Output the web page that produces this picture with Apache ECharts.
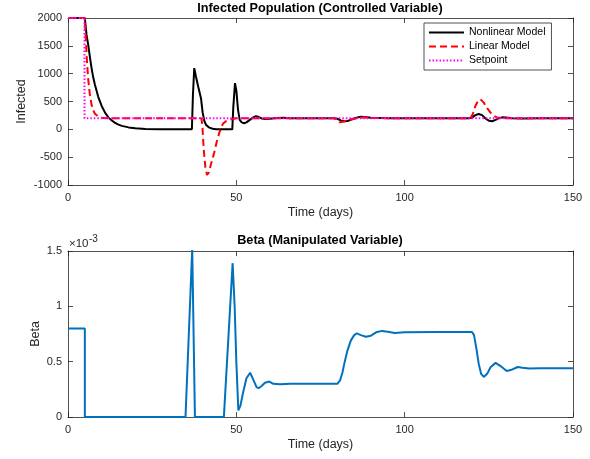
<!DOCTYPE html>
<html>
<head>
<meta charset="utf-8">
<script src="https://cdn.jsdelivr.net/npm/echarts@6/dist/echarts.min.js"></script>
<style>
  html, body { margin: 0; padding: 0; background: #fff; }
  #main { width: 590px; height: 459px; }
</style>
</head>
<body>
<div id="main"></div>
<script>
// infected population, [time (days), value]
const nonlinearPts = [
  [0,2000],[5,2000],[5.5,1700],[6,1520],[6.5,1300],[7,1100],[7.5,930],[8,800],[9,580],[10,420],
  [11,300],[12,215],[13,160],[14,115],[15,85],[16,62],[18,35],[20,20],[23,8],[27,2],[30,0],
  [36.8,0],[37.1,600],[37.5,1100],[38,950],[38.7,760],[39.5,560],[40,300],[40.5,150],[41,80],
  [42,30],[43,10],[44,2],[45,0],[48.8,0],[49.1,400],[49.6,830],[50,700],[50.5,350],[51,170],
  [51.6,125],[52.3,110],[53,125],[54,170],[55,215],[55.8,235],[56.5,225],[57.5,195],[58.5,185],
  [60,190],[62,205],[64,208],[66,200],[70,198],[75,200],[79,200],[80,190],[81,160],[82,145],
  [83,150],[84,170],[85,195],[86,215],[87,225],[88,222],[90,210],[93,205],[96,200],[100,200],
  [119,200],[120,210],[121,255],[122,275],[123,255],[124,195],[125,155],[126,145],[127,170],
  [128,200],[129,215],[130,212],[132,200],[135,196],[140,200],[150,200]
];
const linearPts = [
  [0,2000],[5,2000],[5.3,1600],[5.6,1250],[6,900],[6.5,620],[7,440],[7.5,340],[8,280],[9,228],
  [10,210],[11,202],[12,200],[39.6,200],[39.9,80],[40.3,-350],[40.8,-680],[41.3,-820],[41.8,-780],
  [42.5,-620],[43.3,-450],[44.2,-220],[45,-50],[46,100],[47,150],[48,170],[49,185],[50,200],
  [79,200],[80,165],[80.8,125],[82,140],[84,175],[86,205],[88,215],[90,205],[95,200],
  [119.5,200],[120.2,270],[121,420],[121.8,510],[122.5,540],[123.5,480],[124.5,380],[125.5,300],
  [126.5,240],[127.5,210],[129,205],[130,200],[150,200]
];
const setpointPts = [[0,2000],[4.9,2000],[4.9,200],[150,200]];

// beta in units of 1e-3
const betaPts = [
  [0,0.8],[5,0.8],[5,0],[34.9,0],[36.9,1.52],[37.7,0],[46.3,0],[48.9,1.39],[49.5,1.0],[50,0.5],
  [50.6,0.06],[51.2,0.1],[52,0.22],[53,0.35],[54.1,0.40],[55,0.34],[56,0.27],[56.6,0.26],
  [57.5,0.28],[58.5,0.31],[59.8,0.32],[61,0.30],[63,0.295],[66,0.30],[70,0.30],[75,0.30],
  [80,0.30],[80.8,0.33],[81.5,0.40],[82.2,0.50],[83,0.60],[84,0.69],[85,0.74],[85.8,0.755],
  [87,0.74],[88.5,0.725],[90,0.735],[91.5,0.765],[93.3,0.778],[95,0.77],[97,0.76],[100,0.765],
  [110,0.767],[120,0.768],[120.6,0.74],[121.3,0.62],[122,0.48],[122.7,0.39],[123.5,0.362],
  [124.5,0.39],[125.5,0.45],[127,0.489],[128.5,0.46],[130.3,0.416],[132,0.43],[133.6,0.452],
  [135,0.445],[137,0.438],[140,0.44],[150,0.44]
];

const titles = ['Infected Population (Controlled Variable)', 'Beta (Manipulated Variable)'];
const seriesNames = ['Nonlinear Model', 'Linear Model', 'Setpoint'];

const FONT = 'Liberation Sans, Arial, sans-serif';
const INK = '#262626';

const chart = echarts.init(document.getElementById('main'));

function xAx(grid, pos, showLabel, name) {
  return {
    type: 'value', gridIndex: grid, position: pos, min: 0, max: 150, interval: 50,
    name: name, nameLocation: 'middle', nameGap: 21, nameMoveOverlap: false,
    nameTextStyle: { color: INK, fontFamily: FONT, fontSize: 12.5 },
    axisLine: { show: true, onZero: false, lineStyle: { color: INK, width: 0.8 } },
    axisTick: { show: true, inside: true, length: 5, lineStyle: { color: INK, width: 0.8 } },
    axisLabel: { show: showLabel, color: INK, fontFamily: FONT, fontSize: 11, margin: 7 },
    splitLine: { show: false }
  };
}
function yAx(grid, pos, showLabel, min, max, interval, name, gap) {
  return {
    type: 'value', gridIndex: grid, position: pos, min: min, max: max, interval: interval,
    name: name, nameLocation: 'middle', nameGap: gap, nameMoveOverlap: false,
    nameTextStyle: { color: INK, fontFamily: FONT, fontSize: 12.5 },
    axisLine: { show: true, onZero: false, lineStyle: { color: INK, width: 0.8 } },
    axisTick: { show: true, inside: true, length: 5, lineStyle: { color: INK, width: 0.8 } },
    axisLabel: { show: showLabel, color: INK, fontFamily: FONT, fontSize: 11, margin: 6,
      formatter: v => String(v) },
    splitLine: { show: false }
  };
}

chart.setOption({
  animation: false,
  backgroundColor: '#fff',
  title: [
    { text: titles[0], left: 320, top: 2, padding: 0, textAlign: 'center',
      textStyle: { fontFamily: FONT, fontSize: 12.7, fontWeight: 'bold', color: '#000' } },
    { text: titles[1], left: 320, top: 234, padding: 0, textAlign: 'center',
      textStyle: { fontFamily: FONT, fontSize: 12.7, fontWeight: 'bold', color: '#000' } }
  ],
  legend: {
    data: seriesNames, orient: 'vertical', left: 424, top: 23,
    itemWidth: 35, itemHeight: 10, itemGap: 3,
    padding: [4, 6, 4, 4],
    itemStyle: { opacity: 0 },
    backgroundColor: '#fff', borderColor: INK, borderWidth: 0.8,
    textStyle: { fontFamily: FONT, fontSize: 10.5, color: '#000' }
  },
  grid: [
    { left: 68, top: 18, width: 505, height: 167 },
    { left: 68, top: 251, width: 505, height: 166 }
  ],
  xAxis: [
    xAx(0, 'bottom', true, 'Time (days)'),
    xAx(0, 'top', false),
    xAx(1, 'bottom', true, 'Time (days)'),
    xAx(1, 'top', false)
  ],
  yAxis: [
    yAx(0, 'left', true, -1000, 2000, 500, 'Infected', 40),
    yAx(0, 'right', false, -1000, 2000, 500),
    yAx(1, 'left', true, 0, 1.5, 0.5, 'Beta', 26),
    yAx(1, 'right', false, 0, 1.5, 0.5)
  ],
  graphic: [
    { type: 'text', left: 69, top: 238,
      style: { text: '×10', fill: INK, font: '11.5px ' + FONT } },
    { type: 'text', left: 89, top: 234,
      style: { text: '-3', fill: INK, font: '10px ' + FONT } }
  ],
  series: [
    { name: seriesNames[0], type: 'line', xAxisIndex: 0, yAxisIndex: 0, data: nonlinearPts,
      showSymbol: false, symbol: 'none', lineStyle: { color: '#000', width: 2 }, itemStyle: { color: '#000' } },
    { name: seriesNames[1], type: 'line', xAxisIndex: 0, yAxisIndex: 0, data: linearPts,
      showSymbol: false, symbol: 'none', lineStyle: { color: '#ff0000', width: 2, type: [7, 4] }, itemStyle: { color: '#ff0000' } },
    { name: seriesNames[2], type: 'line', xAxisIndex: 0, yAxisIndex: 0, data: setpointPts,
      showSymbol: false, symbol: 'none', lineStyle: { color: '#ff00ff', width: 2, type: [1.5, 2] }, itemStyle: { color: '#ff00ff' } },
    { name: 'Beta', type: 'line', xAxisIndex: 2, yAxisIndex: 2, data: betaPts, clip: true,
      showSymbol: false, symbol: 'none', lineStyle: { color: '#0072BD', width: 2 }, itemStyle: { color: '#0072BD' } }
  ]
});
</script>
</body>
</html>
